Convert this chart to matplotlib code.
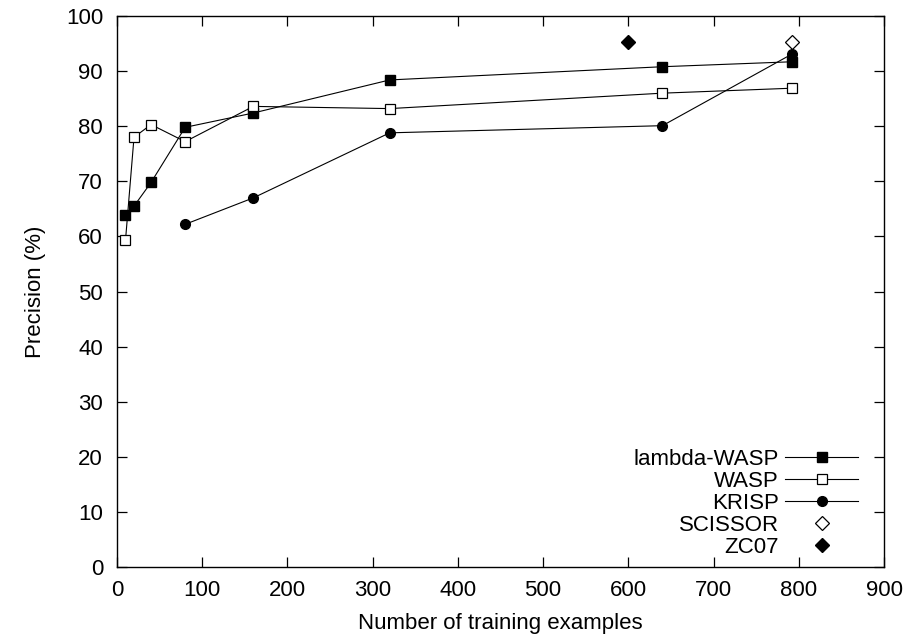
import numpy as np
import matplotlib.pyplot as plt

plt.rcParams['font.family'] = ['Liberation Sans', 'DejaVu Sans']
plt.rcParams['font.size'] = 16

# data
lw_x = [10, 20, 40, 80, 160, 320, 640, 792]
lw_y = [63.8, 65.5, 69.8, 79.8, 82.4, 88.4, 90.8, 91.7]

wasp_x = [10, 20, 40, 80, 160, 320, 640, 792]
wasp_y = [59.3, 78.0, 80.3, 77.2, 83.6, 83.2, 86.0, 86.9]

krisp_x = [80, 160, 320, 640, 792]
krisp_y = [62.2, 67.0, 78.8, 80.1, 93.1]

scissor_x = [792]
scissor_y = [95.2]

zc07_x = [600]
zc07_y = [95.2]

fig = plt.figure(figsize=(9.11, 6.41), dpi=100)
ax = fig.add_axes([0.1284, 0.1154, 0.842, 0.8596])

ax.plot(lw_x, lw_y, color='black', linewidth=0.8, marker='s', markersize=7.5,
        markerfacecolor='black', markeredgecolor='black', label='lambda-WASP')
ax.plot(wasp_x, wasp_y, color='black', linewidth=0.8, marker='s', markersize=7.5,
        markerfacecolor='white', markeredgecolor='black', markeredgewidth=0.9, label='WASP')
ax.plot(krisp_x, krisp_y, color='black', linewidth=0.8, marker='o', markersize=7,
        markerfacecolor='black', markeredgecolor='black', label='KRISP')
ax.plot(scissor_x, scissor_y, linestyle='none', marker='D', markersize=7,
        markerfacecolor='white', markeredgecolor='black', markeredgewidth=0.9, label='SCISSOR')
ax.plot(zc07_x, zc07_y, linestyle='none', marker='D', markersize=7,
        markerfacecolor='black', markeredgecolor='black', label='ZC07')

ax.set_xlim(0, 900)
ax.set_ylim(0, 100)
ax.set_xticks(np.arange(0, 901, 100))
ax.set_yticks(np.arange(0, 101, 10))
ax.tick_params(direction='in', length=7, width=0.9, top=True, right=True)
ax.tick_params(axis='x', pad=9.5)
ax.tick_params(axis='y', pad=10)
for s in ax.spines.values():
    s.set_linewidth(1.0)

ax.set_xlabel('Number of training examples', labelpad=8.5)
ax.set_ylabel('Precision (%)', labelpad=14)

ax.legend(loc='lower right', bbox_to_anchor=(0.978, 0.0), frameon=False,
          markerfirst=False, handlelength=3.3, handletextpad=0.28,
          labelspacing=0.05, borderaxespad=0, fontsize=16)

plt.savefig('out.png', dpi=100)
